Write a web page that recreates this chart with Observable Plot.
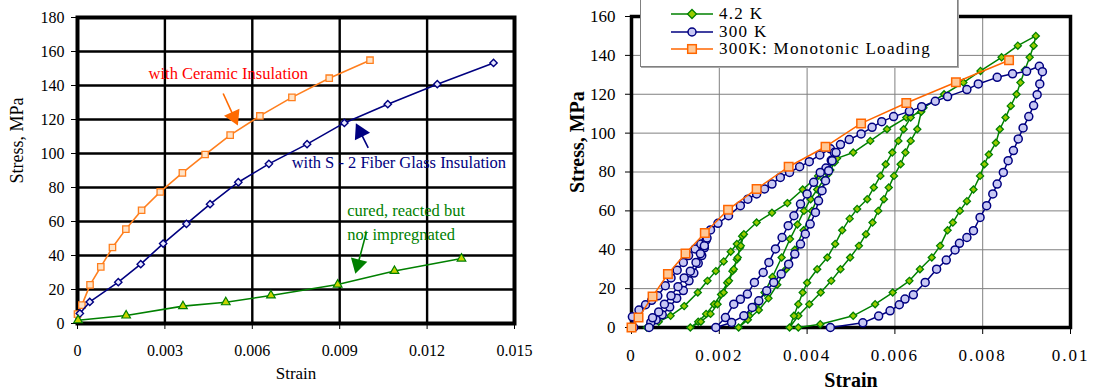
<!DOCTYPE html>
<html><head><meta charset="utf-8">
<script src="https://cdn.jsdelivr.net/npm/d3@7"></script>
<script src="https://cdn.jsdelivr.net/npm/@observablehq/plot@0.6"></script>
<style>
body{margin:0;background:#fff;}
#wrap{position:relative;width:1093px;height:392px;overflow:hidden;background:#fff;font-family:"Liberation Serif","Times New Roman",serif;}
#left,#right{position:absolute;top:0}
#left{left:0;width:540px}
#right{left:540px;width:553px}
#left svg,#right svg{max-width:none !important;}
#right g[aria-label="x-axis tick label"] text{letter-spacing:2px;}
#legend{position:absolute;left:640px;top:-8px;width:318px;height:75px;background:#fff;border:1px solid #808080;box-sizing:border-box;box-shadow:1px 1px 0 #aaa;}
.lrow{position:absolute;left:0;height:18px;display:flex;align-items:center;white-space:nowrap}
.lrow svg{margin-left:30px}
.lrow span{margin-left:4px;font-size:17px;letter-spacing:1.3px;color:#000}
</style>
</head><body>
<div id="wrap">
  <div id="left"></div>
  <div id="right"></div>
  <div id="legend"></div>
</div>
<script>
// ---------- LEFT PANEL DATA ----------
const xTicksL = [0, 0.003, 0.006, 0.009, 0.012, 0.015];
const yTicksL = [0, 20, 40, 60, 80, 100, 120, 140, 160, 180];

const strainCeramic = [0, 0.00015, 0.00043, 0.0008, 0.0012, 0.00166, 0.0022, 0.00284, 0.0036, 0.00438, 0.00524, 0.00626, 0.00736, 0.00864, 0.01004];
const stressCeramic = [5.5, 10.8, 22.7, 33.3, 44.7, 55.5, 66.6, 77.4, 88.6, 99.4, 110.8, 122.1, 133, 144.3, 154.9];

const strainS2 = [0.00008, 0.00042, 0.0014, 0.00217, 0.00294, 0.00374, 0.00455, 0.00552, 0.00657, 0.00788, 0.00916, 0.01065, 0.01235, 0.01428];
const stressS2 = [5.9, 12.7, 24.3, 34.9, 47, 58.6, 70.2, 83.1, 93.9, 105.5, 118, 129, 140.8, 153.3];

const strainCured = [0.00002, 0.00167, 0.00362, 0.00509, 0.00664, 0.00893, 0.01088, 0.01318];
const stressCured = [1.9, 4.7, 10.2, 12.5, 16.5, 22.9, 30.9, 38.2];

const noteText = ["with Ceramic Insulation", "with S - 2 Fiber Glass Insulation", "cured, reacted but", "not impregnated"];
const noteX = [0.00244, 0.00735, 0.00926, 0.00926];
const noteY = [147.2, 94.3, 66.1, 52.4];

const arrowFrom = [[0.0050, 135.3], [0.00998, 103.3], [0.00992, 53.9]];
const arrowTo = [[0.0055, 116.6], [0.00956, 117.6], [0.00954, 29.4]];

// ---------- RIGHT PANEL DATA ----------
const xTicksR = [0, 0.002, 0.004, 0.006, 0.008, 0.01];
const yTicksR = [0, 20, 40, 60, 80, 100, 120, 140, 160];
const legendLabels = ["4.2 K", "300 K", "300K: Monotonic Loading"];

const green42K = [
[0.00035,0],[0.00062,3],[0.00089,6],[0.0012,11],[0.00151,18],[0.00173,24],[0.00192,29],[0.0021,34],[0.00226,39],[0.0024,43],[0.00252,47],
[0.00247,41],[0.0024,35],[0.0023,29],[0.00218,23],[0.00204,17],[0.00188,12],[0.0017,7],[0.00152,3],[0.00134,0],
[0.00158,3],[0.0018,7],[0.00196,12],[0.0021,18],[0.00222,24],[0.00233,30],[0.00242,36],[0.00249,42],[0.00256,48],[0.00285,54],[0.0032,59],[0.00355,64],[0.0039,71],[0.00425,78],[0.00463,85],
[0.00453,81],[0.00438,76],[0.00423,71],[0.00408,66],[0.00393,60],[0.00378,53],[0.00361,45.5],[0.00342,36],[0.00321,26],[0.00303,18],[0.00285,12],[0.00268,6],[0.00244,0],
[0.00265,4],[0.0029,9],[0.00312,15],[0.00332,22],[0.00352,30],[0.00372,40],[0.00392,50],[0.00411,60],[0.0043,70],[0.00448,79],[0.00468,87],[0.00505,90],[0.00544,96],[0.00582,102],[0.00626,108],[0.0066,111],
[0.00651,102],[0.00636,96],[0.00624,90],[0.00613,84],[0.00598,78],[0.00586,72],[0.00575,66],[0.00562,60],[0.00549,54],[0.00534,48],[0.00518,42],[0.00498,36],[0.00476,30],[0.00455,24],[0.00431,18],[0.00405,12],[0.0038,6],[0.0036,0],
[0.0037,6],[0.0038,12],[0.0039,18],[0.004,23],[0.00423,30],[0.00446,36],[0.00464,43],[0.0048,50],[0.00497,56],[0.00514,61],[0.00537,66],[0.00552,72],[0.00567,78],[0.00579,84],[0.00594,90],[0.00608,96],[0.0062,102],[0.00636,108],[0.00665,113],[0.00712,120],[0.00756,126],[0.00795,132],[0.00843,139],[0.0088,145],[0.00921,150],
[0.00916,145],[0.00907,139],[0.00896,132.5],[0.00886,126],[0.00877,120],[0.00864,114],[0.00852,108],[0.00839,102],[0.0083,95],[0.00814,89],[0.00804,84],[0.00794,78],[0.00779,71],[0.00764,65],[0.00748,60],[0.00732,54],[0.0072,50],[0.00703,42],[0.00684,36],[0.00657,30],[0.00633,24],[0.00595,18],[0.00555,12],[0.00505,6],[0.0043,1.7],[0.0038,0]
];

const blue300K = [
[0.00005,0],[0.00002,5.5],[0.00017,9],[0.00032,11.7],[0.00046,14],[0.0006,16.3],[0.00077,21.5],[0.0009,25.5],[0.00104,29.5],[0.00118,33.5],[0.0013,37],[0.00145,40.4],[0.00158,43],[0.0017,45],
[0.00166,41],[0.0016,37],[0.00152,33],[0.00142,28],[0.00131,24],[0.00118,19],[0.00103,15],[0.00087,10.5],[0.0007,6.5],[0.00056,4],[0.00044,2.6],[0.0004,0],
[0.00048,5],[0.00062,8],[0.00075,12],[0.0009,16.3],[0.00106,21],[0.0012,25.5],[0.00134,29],[0.00147,33.5],[0.00157,38],[0.00166,42],[0.00172,46],[0.0018,50.2],[0.00197,53.6],[0.00221,57.5],[0.00248,62.7],[0.00265,66],[0.00285,68.7],[0.00303,71.3],[0.0032,73.8],[0.00339,77.2],[0.0036,79.8],[0.00383,82.7],[0.00405,85.3],[0.00429,88.8],[0.00453,91.9],[0.00462,90],
[0.00455,86],[0.00443,82],[0.0043,79.8],[0.00415,74.7],[0.004,68.7],[0.00385,63.5],[0.0037,57.5],[0.00357,52.4],[0.00343,46.3],[0.00328,40.4],[0.00313,33.5],[0.003,28.3],[0.0028,23.2],[0.00264,17.2],[0.00248,14.5],[0.00233,12],[0.00214,5.1],[0.00192,0],
[0.00228,2.6],[0.00256,6],[0.00275,10.3],[0.0029,13.7],[0.00308,18.9],[0.00324,23.2],[0.00341,27.5],[0.00358,32.6],[0.00372,37.8],[0.00385,42.9],[0.00396,48.1],[0.00407,53.2],[0.00419,59.2],[0.00426,65.2],[0.00434,70.4],[0.00442,75.5],[0.00449,80.7],[0.00457,85.8],[0.00466,90],[0.00476,94.1],[0.00496,96.7],[0.00523,99.6],[0.00548,103],[0.0057,105.9],[0.00597,108.5],[0.00633,111.2],[0.00661,113.6],[0.00692,116.4],[0.0072,118.8],[0.00764,122.4],[0.0079,125.3],[0.00833,128.7],[0.00868,130.5],[0.009,131.8],[0.00929,134.4],
[0.00936,131.6],[0.0093,125.3],[0.00924,119.8],[0.00916,114.2],[0.00905,108.5],[0.00892,102.7],[0.00881,97],[0.0087,91],[0.00858,85.8],[0.00847,79.8],[0.00833,73.8],[0.00823,68.7],[0.00809,62.7],[0.00794,56.6],[0.00779,49.8],[0.00764,46.3],[0.00747,43.3],[0.00737,39.9],[0.00717,34.7],[0.00695,30],[0.00669,23.2],[0.00642,16.8],[0.00623,14.6],[0.0061,11.7],[0.00589,8.6],[0.00563,5.9],[0.00527,2.4],[0.00453,0]
];

const orangeMono = [
[0,0],[0.00016,5.1],[0.00048,16],[0.00083,27.5],[0.00123,38.1],[0.00167,48.6],[0.0022,60.6],[0.00285,71.3],[0.00358,82.7],[0.00442,93],[0.00523,105],[0.00626,115.5],[0.00739,126.2],[0.0086,137.5]
];

// ---------- BUILD ----------
const FONT = "Liberation Serif";
const fmt = d => String(d);
const toRows = (xs, ys) => xs.map((x, i) => ({strain: x, stress: ys[i]}));
const ceramic = toRows(strainCeramic, stressCeramic);
const s2 = toRows(strainS2, stressS2);
const cured = toRows(strainCured, stressCured);
const notes = noteText.map((t, i) => ({t, x: noteX[i], y: noteY[i], i}));
const noteColors = ["#ff0000", "#000080", "#008000", "#008000"];
const arrowColors = ["#ff6a00", "#000080", "#008000"];

const L = {w: 540, h: 392, ml: 77, mr: 26, mt: 17, mb: 69};
const sxL = d3.scaleLinear([0, 0.015], [L.ml, L.w - L.mr]);
const syL = d3.scaleLinear([0, 180], [L.h - L.mb, L.mt]);
const arrows = arrowFrom.map((f, i) => {
  const t = arrowTo[i];
  const x1 = sxL(f[0]), y1 = syL(f[1]), x2 = sxL(t[0]), y2 = syL(t[1]);
  const dx = x2 - x1, dy = y2 - y1, len = Math.hypot(dx, dy), ux = dx / len, uy = dy / len;
  return {
    x1: f[0], y1: f[1],
    x2: sxL.invert(x2 - ux * 9), y2: syL.invert(y2 - uy * 9),
    hx: sxL.invert(x2 - ux * 9.5), hy: syL.invert(y2 - uy * 9.5),
    angle: Math.atan2(dx, -dy) * 180 / Math.PI, c: arrowColors[i]
  };
});

const left = Plot.plot({
  width: L.w, height: L.h, marginLeft: L.ml, marginRight: L.mr, marginTop: L.mt, marginBottom: L.mb,
  style: {fontFamily: FONT, fontSize: "16px", background: "transparent", overflow: "visible"},
  x: {domain: [0, 0.015], ticks: xTicksL, tickFormat: fmt, tickSize: 6, tickPadding: 15, label: null},
  y: {domain: [0, 180], ticks: yTicksL, tickSize: 6, tickPadding: 7, label: null},
  marks: [
    Plot.ruleX(xTicksL, {stroke: "#000", strokeWidth: 2.4}),
    Plot.ruleY(yTicksL, {stroke: "#000", strokeWidth: 2.4}),
    Plot.frame({stroke: "#000", strokeWidth: 4}),
    Plot.line(ceramic, {x: "strain", y: "stress", stroke: "#ff7f1e", strokeWidth: 1.6}),
    Plot.dot(ceramic, {x: "strain", y: "stress", symbol: "square", r: 3.6, fill: "#ffe4c8", stroke: "#ff7f1e", strokeWidth: 1.3}),
    Plot.line(s2, {x: "strain", y: "stress", stroke: "#000080", strokeWidth: 1.6}),
    Plot.dot(s2, {x: "strain", y: "stress", symbol: "diamond2", r: 3.3, fill: "#e8e8ff", stroke: "#000080", strokeWidth: 1.4}),
    Plot.line(cured, {x: "strain", y: "stress", stroke: "#008000", strokeWidth: 1.6}),
    Plot.dot(cured, {x: "strain", y: "stress", symbol: "triangle", r: 3.2, fill: "#c8d400", stroke: "#008000", strokeWidth: 1.2}),
    Plot.text(notes, {x: "x", y: "y", text: "t", textAnchor: "start", lineAnchor: "middle", fontSize: 16.5, fontFamily: FONT, fill: d => noteColors[d.i]}),
    Plot.link(arrows, {x1: "x1", y1: "y1", x2: "x2", y2: "y2", stroke: "c", strokeWidth: 1.6}),
    Plot.dot(arrows, {x: "hx", y: "hy", symbol: "triangle", r: 6.3, fill: "c", stroke: "none", rotate: "angle"}),
    Plot.text(["Strain"], {frameAnchor: "bottom", dy: 50, lineAnchor: "middle", fontSize: 17, fontFamily: FONT}),
    Plot.text(["Stress, MPa"], {frameAnchor: "left", dx: -60, dy: 13, rotate: -90, lineAnchor: "middle", fontSize: 18, fontFamily: FONT})
  ]
});
document.getElementById("left").append(left);

const R = {w: 553, h: 392, ml: 91, mr: 23, mt: 16, mb: 65};
const gx = d => d[0], gy = d => d[1];
const right = Plot.plot({
  width: R.w, height: R.h, marginLeft: R.ml, marginRight: R.mr, marginTop: R.mt, marginBottom: R.mb,
  style: {fontFamily: FONT, fontSize: "17px", background: "transparent", overflow: "visible"},
  x: {domain: [0, 0.01], ticks: xTicksR, tickFormat: fmt, tickSize: 7, tickPadding: 14, label: null},
  y: {domain: [0, 160], ticks: yTicksR, tickSize: 6, tickPadding: 10, label: null},
  marks: [
    Plot.ruleX(xTicksR, {stroke: "#808080", strokeWidth: 1}),
    Plot.ruleY(yTicksR, {stroke: "#808080", strokeWidth: 1}),
    Plot.frame({stroke: "#000", strokeWidth: 3.5}),
    Plot.line(green42K, {x: gx, y: gy, stroke: "#008000", strokeWidth: 1.5}),
    Plot.dot(green42K, {x: gx, y: gy, symbol: "diamond2", r: 3.2, fill: "#99cc00", stroke: "#008000", strokeWidth: 1.3}),
    Plot.line(blue300K, {x: gx, y: gy, stroke: "#000080", strokeWidth: 1.5}),
    Plot.dot(blue300K, {x: gx, y: gy, symbol: "circle", r: 4, fill: "#c8c8f4", stroke: "#000080", strokeWidth: 1.5}),
    Plot.line(orangeMono, {x: gx, y: gy, stroke: "#ff6600", strokeWidth: 1.5}),
    Plot.dot(orangeMono, {x: gx, y: gy, symbol: "square", r: 4.8, fill: "#ffc896", stroke: "#ff6600", strokeWidth: 1.5}),
    Plot.text(["Strain"], {frameAnchor: "bottom", dy: 53, lineAnchor: "middle", fontSize: 20, fontWeight: "bold", fontFamily: FONT}),
    Plot.text(["Stress, MPa"], {frameAnchor: "left", dx: -54, dy: 21, rotate: -90, lineAnchor: "middle", fontSize: 20, fontWeight: "bold", fontFamily: FONT})
  ]
});
document.getElementById("right").append(right);

const swatches = [
  '<line x1="0" y1="7" x2="42" y2="7" stroke="#008000" stroke-width="1.5"/><path d="M21,2.5 L25.5,7 L21,11.5 L16.5,7 Z" fill="#99cc00" stroke="#008000" stroke-width="1.3"/>',
  '<line x1="0" y1="7" x2="42" y2="7" stroke="#000080" stroke-width="1.5"/><circle cx="21" cy="7" r="4" fill="#c8c8f4" stroke="#000080" stroke-width="1.5"/>',
  '<line x1="0" y1="7" x2="42" y2="7" stroke="#ff6600" stroke-width="1.5"/><rect x="16.7" y="2.7" width="8.6" height="8.6" fill="#ffc896" stroke="#ff6600" stroke-width="1.5"/>'
];
const rowTops = [12, 30, 47];
const leg = document.getElementById("legend");
legendLabels.forEach((lab, i) => {
  const row = document.createElement("div");
  row.className = "lrow";
  row.style.top = rowTops[i] + "px";
  row.innerHTML = '<svg width="44" height="14">' + swatches[i] + '</svg><span>' + lab + '</span>';
  leg.append(row);
});
</script>
</body></html>
